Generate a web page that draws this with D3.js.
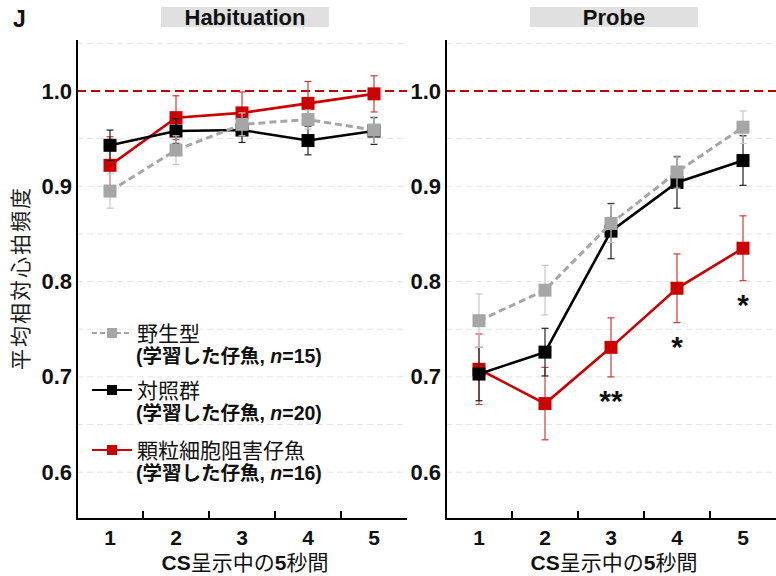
<!DOCTYPE html>
<html><head><meta charset="utf-8">
<script src="https://cdn.jsdelivr.net/npm/d3@7"></script>
<style>
body{margin:0;background:#fff;}
svg{display:block;font-family:'Liberation Sans','Noto Sans CJK JP',Arial,sans-serif;}
</style></head>
<body><svg id="c" width="776" height="576"></svg>
<script>
const categories = [1, 2, 3, 4, 5];
const yTicks = [0.6, 0.7, 0.8, 0.9, 1.0];
const gridValues = [0.6, 0.65, 0.7, 0.75, 0.8, 0.85, 0.9, 0.95, 1.05];
const panelTitles = ["Habituation", "Probe"];
const xTitleParts = [["CS", true], ["呈示中の", false], ["5", true], ["秒間", false]];
const yTitle = "平均相対心拍頻度";
const seriesNames = ["野生型", "対照群", "顆粒細胞阻害仔魚"];
const seriesN = [15, 20, 16];
// Habituation
const habWT   = [0.895, 0.938, 0.965, 0.970, 0.959];
const habWTe  = [0.018, 0.015, 0.012, 0.010, 0.014];
const habCtl  = [0.943, 0.958, 0.959, 0.948, 0.958];
const habCtle = [0.016, 0.013, 0.013, 0.015, 0.014];
const habGC   = [0.922, 0.972, 0.977, 0.987, 0.997];
const habGCe  = [0.030, 0.023, 0.022, 0.023, 0.019];
// Probe
const prbWT   = [0.759, 0.791, 0.861, 0.915, 0.962];
const prbWTe  = [0.028, 0.026, 0.020, 0.017, 0.017];
const prbCtl  = [0.703, 0.726, 0.853, 0.904, 0.927];
const prbCtle = [0.028, 0.025, 0.029, 0.027, 0.026];
const prbGC   = [0.708, 0.672, 0.731, 0.793, 0.835];
const prbGCe  = [0.037, 0.038, 0.031, 0.036, 0.034];
const probeStars = ["", "", "**", "*", "*"];

const svg = d3.select("#c");
svg.append("rect").attr("width",776).attr("height",576).attr("fill","#fff");

const y = d3.scaleLinear().domain([0.5509, 1.0535]).range([519, 40]);
const colors = {wt:"#a6a6a6", ctl:"#000000", gc:"#cc0000"};
const errColors = {wt:"#c8c8c8", ctl:"#222", gc:"#d23a3a"};
const latin = "'Liberation Sans',Arial,sans-serif";

const panels = [
  {range:[77,407], title:panelTitles[0], data:{wt:[habWT,habWTe], ctl:[habCtl,habCtle], gc:[habGC,habGCe]}},
  {range:[446,776], title:panelTitles[1], data:{wt:[prbWT,prbWTe], ctl:[prbCtl,prbCtle], gc:[prbGC,prbGCe]}, stars:probeStars}
];

panels.forEach((p, pi) => {
  const x = d3.scaleBand().domain(categories).range(p.range).paddingInner(0).paddingOuter(0);
  const g = svg.append("g");
  const x0 = p.range[0], x1 = p.range[1];
  g.selectAll(".grid").data(gridValues).join("line")
    .attr("x1", x0).attr("x2", x1)
    .attr("y1", d=>y(d)).attr("y2", d=>y(d))
    .attr("stroke","#e3e3e3").attr("stroke-width",1).attr("stroke-dasharray","6,4");
  g.append("line").attr("x1", x0).attr("x2", x1).attr("y1", y(1)).attr("y2", y(1))
    .attr("stroke","#c00000").attr("stroke-width",1.8).attr("stroke-dasharray","9,5");
  const ya = d3.axisLeft(y).tickValues(yTicks).tickSize(0).tickPadding(5).tickFormat(d3.format(".1f"));
  const yg = g.append("g").attr("transform",`translate(${x0},0)`).call(ya);
  yg.select(".domain").remove();
  yg.selectAll("text").attr("font-size",22).attr("font-weight","bold").attr("fill","#111")
    .attr("font-family",latin);
  const xa = d3.axisBottom(x).tickSize(0).tickPadding(11);
  const xg = g.append("g").attr("transform","translate(0,519)").call(xa);
  xg.select(".domain").remove();
  xg.selectAll("text").attr("font-size",21).attr("font-weight","bold").attr("fill","#111")
    .attr("font-family",latin);
  const bounds = categories.slice(1).map(c => x(c));
  g.selectAll(".tk").data(bounds).join("line")
    .attr("x1",d=>d).attr("x2",d=>d).attr("y1",519).attr("y2",511)
    .attr("stroke","#000").attr("stroke-width",2);
  g.append("line").attr("x1",x0).attr("x2",x0).attr("y1",40).attr("y2",520).attr("stroke","#000").attr("stroke-width",2);
  g.append("line").attr("x1",x0-1).attr("x2",x1).attr("y1",519).attr("y2",519).attr("stroke","#000").attr("stroke-width",2);
  const xt = g.append("text").attr("x",(x0+x1)/2 + 3).attr("y",570).attr("text-anchor","middle")
    .attr("font-size",21).attr("fill","#111");
  xTitleParts.forEach(([s,b]) => xt.append("tspan").attr("font-weight", b ? "bold" : "normal").text(s));
  const cx = (x0+x1)/2 + 3;
  g.append("rect").attr("x",cx-84).attr("y",7).attr("width",168).attr("height",20).attr("fill","#e0e0e0");
  g.append("text").attr("x",cx).attr("y",25).attr("text-anchor","middle").attr("font-size",22)
    .attr("font-weight","bold").attr("fill","#111").attr("font-family",latin).text(p.title);

  const cxs = c => x(c) + x.bandwidth()/2;
  ["gc","ctl","wt"].forEach(k => {
    const [vals, errs] = p.data[k];
    const pts = categories.map((c,i)=>({c, v:vals[i], e:errs[i]}));
    const eg = g.append("g").attr("stroke",errColors[k]).attr("stroke-width",1.2);
    pts.forEach(d => {
      eg.append("line").attr("x1",cxs(d.c)).attr("x2",cxs(d.c)).attr("y1",y(d.v-d.e)).attr("y2",y(d.v+d.e));
      [d.v-d.e, d.v+d.e].forEach(v => eg.append("line").attr("x1",cxs(d.c)-3.5).attr("x2",cxs(d.c)+3.5).attr("y1",y(v)).attr("y2",y(v)));
    });
    const line = d3.line().x(d=>cxs(d.c)).y(d=>y(d.v));
    g.append("path").datum(pts).attr("d",line).attr("fill","none").attr("stroke",colors[k])
      .attr("stroke-width",k==="wt"?3:2.6).attr("stroke-dasharray",k==="wt"?"7,4":null);
    g.selectAll(null).data(pts).join("rect")
      .attr("x",d=>cxs(d.c)-6.5).attr("y",d=>y(d.v)-6.5).attr("width",13).attr("height",13)
      .attr("fill",colors[k]);
  });
  if (p.stars) {
    g.selectAll(".star").data(categories.map((c,i)=>({c, s:p.stars[i], v:prbGC[i]-prbGCe[i]})).filter(d=>d.s))
      .join("text").attr("x",d=>cxs(d.c)).attr("y",d=>y(d.v)+34).attr("text-anchor","middle")
      .attr("font-size",30).attr("font-weight","bold").attr("fill","#111")
      .attr("font-family",latin).text(d=>d.s);
  }
});

svg.append("text").attr("x",13).attr("y",27).attr("font-size",23).attr("font-weight","bold")
  .attr("font-family",latin).attr("fill","#111").text("J");
svg.append("g").attr("opacity",0.99).append("text")
  .attr("transform","translate(28,278) rotate(-90)").attr("text-anchor","middle")
  .attr("font-size",21).attr("letter-spacing",2).attr("fill","#1a1a1a").text(yTitle);

const legKeys = ["wt","ctl","gc"];
const legY = [333, 390, 450];
legKeys.forEach((k,i) => {
  const lg = svg.append("g");
  lg.append("line").attr("x1",92).attr("x2",132).attr("y1",legY[i]).attr("y2",legY[i])
    .attr("stroke",colors[k]).attr("stroke-width",2).attr("stroke-dasharray",k==="wt"?"5,3":null);
  lg.append("rect").attr("x",107).attr("y",legY[i]-5).attr("width",10).attr("height",10).attr("fill",colors[k]);
  lg.append("text").attr("x",137).attr("y",legY[i]+8).attr("font-size",21).attr("fill","#111").text(seriesNames[i]);
  const t = lg.append("text").attr("x",136).attr("y",legY[i]+30).attr("font-size",19.5).attr("font-weight","bold").attr("fill","#111");
  t.append("tspan").text("(学習した仔魚, ");
  t.append("tspan").attr("font-style","italic").text("n");
  t.append("tspan").text("=" + seriesN[i] + ")");
});
</script></body></html>
